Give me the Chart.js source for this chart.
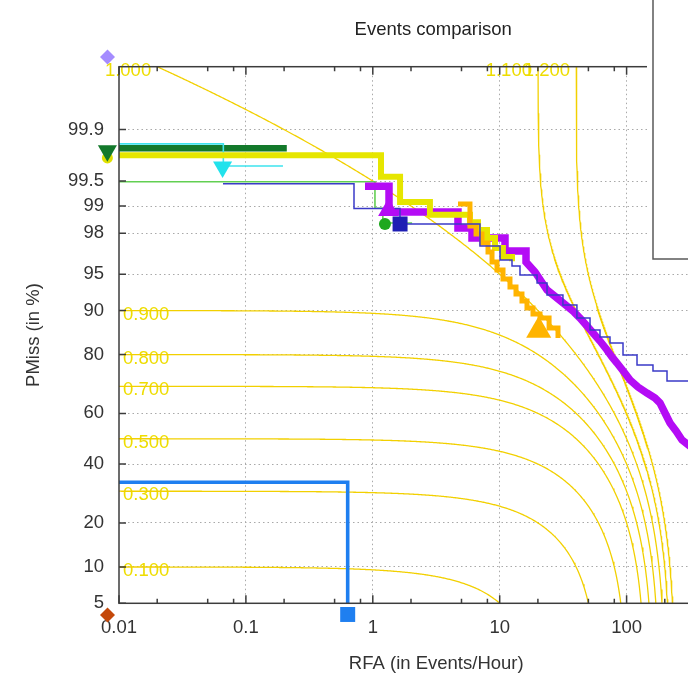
<!DOCTYPE html>
<html>
<head>
<meta charset="utf-8">
<title>Events comparison</title>
<script src="https://cdn.jsdelivr.net/npm/chart.js@4.4.1/dist/chart.umd.min.js"></script>
<style>
  html, body { margin: 0; padding: 0; background: #fff; overflow: hidden; width: 688px; height: 675px; }
  #wrap { width: 800px; height: 675px; }
  canvas { display: block; }
</style>
</head>
<body>
<div id="wrap"><canvas id="det" width="800" height="675"></canvas></div>
<script>
// ---- DET curves: RFA in events/hour, PMiss in percent ----
const yellowRFA   = [0.01, 1.16, 1.64, 2.82, 5.83, 6.75, 7.94, 9.18, 10.6, 12.5];
const yellowPMiss = [99.77, 99.56, 99.10, 98.74, 98.48, 98.15, 97.76, 97.17, 96.53, 96.2];

const darkGreenRFA   = [0.01, 0.21];
const darkGreenPMiss = [99.815, 99.815];

const cyanRFA   = [0.01, 0.0664, 0.196];
const cyanPMiss = [99.84, 99.68, 99.68];

const lightGreenRFA   = [0.01, 1.04, 1.2, 2.04];
const lightGreenPMiss = [99.49, 98.94, 98.45, 98.45];

const navyRFA   = [0.066, 0.711, 1.638, 6.99, 10.06, 12.5, 14.45, 19.7, 23.6, 31.5, 40.6, 51.5, 61.7, 74.0, 93.7, 120.8, 161.4, 208.2, 320];
const navyPMiss = [99.46, 98.93, 98.41, 97.30, 96.30, 95.79, 94.92, 94.02, 92.46, 90.94, 88.63, 86.15, 84.54, 83.07, 79.87, 76.95, 75.08, 71.80, 70.78];

// vertices of the purple curve (corners of its first steps, then its ragged tail)
const purpleRFA   = [0.868, 1.342, 1.342, 4.69, 4.69, 6.05, 6.05, 11.01, 11.01, 16.12, 16.12, 18.98, 21.16, 23.6, 28.28, 33.9, 38.5, 42.9, 48.75, 54.4, 61.7, 70.1, 76.7, 84.0, 95.4, 106.4, 123.0, 144.8, 167.4, 183.4, 200.7, 219.8, 245.1, 273.3, 320];
const purplePMiss = [99.42, 99.42, 98.83, 98.83, 98.24, 98.24, 97.76, 97.76, 96.97, 96.97, 96.14, 95.22, 94.26, 93.15, 92.03, 90.77, 89.74, 88.63, 87.01, 85.47, 83.57, 81.25, 79.30, 77.55, 74.77, 72.14, 69.75, 67.62, 65.81, 63.95, 60.15, 56.25, 53.08, 49.49, 46.8];

const orangeRFA   = [4.69, 5.83, 6.51, 7.25, 8.09, 8.70, 9.52, 10.62, 12.05, 13.44, 14.98, 16.41, 18.30, 20.78, 24.5, 28.8];
const orangePMiss = [99.05, 98.33, 97.96, 97.48, 96.90, 96.14, 95.42, 94.48, 93.53, 92.60, 91.57, 90.44, 89.38, 88.63, 86.58, 84.30];

const blueRFA   = [0.01, 0.634];
const bluePMiss = [33.16, 3.0];

// actual-decision points [RFA, PMiss %]; those beyond the axes sit just outside the frame
const violetMark     = [0.00812, 99.9932];
const yellowMark     = [0.0081, 99.75];
const darkGreenMark  = [0.0081, 99.80];
const cyanMark       = [0.0655, 99.67];
const lightGreenMark = [1.247, 98.41];
const navyMark       = [1.64, 98.41];
const purpleMark     = [1.33, 98.89];
const orangeMark     = [20.3, 86.04];
const blueMark       = [0.634, 3.95];
const brownMark      = [0.00812, 3.90];

// ---- axes ----
const yTickPercents = [5, 10, 20, 40, 60, 80, 90, 95, 98, 99, 99.5, 99.9];
const yTickLabels   = ['5', '10', '20', '40', '60', '80', '90', '95', '98', '99', '99.5', '99.9'];
const xMajorTicks   = [0.01, 0.1, 1, 10, 100, 1000];
const xMajorLabels  = ['0.01', '0.1', '1', '10', '100', '1000'];
const xMinorSteps   = [2, 5, 8];

// ---- iso-cost lines: cost = PMiss + CostFA / (CostMiss * Rtarget) * RFA ----
const costLevels  = [0.1, 0.3, 0.5, 0.7, 0.8, 0.9, 1.0, 1.1, 1.2];
const costLabels  = ['0.100', '0.300', '0.500', '0.700', '0.800', '0.900', '1.000', '1.100', '1.200'];
const COST_MISS = 10, COST_FA = 1, R_TARGET = 20;
const beta = COST_FA / (COST_MISS * R_TARGET);

// inverse of the standard normal CDF (Acklam)
function probit(p) {
  const a = [-3.969683028665376e+01, 2.209460984245205e+02, -2.759285104469687e+02, 1.383577518672690e+02, -3.066479806614716e+01, 2.506628277459239e+00];
  const b = [-5.447609879822406e+01, 1.615858368580409e+02, -1.556989798598866e+02, 6.680131188771972e+01, -1.328068155288572e+01];
  const c = [-7.784894002430293e-03, -3.223964580411365e-01, -2.400758277161838e+00, -2.549671010676686e+00, 4.374664141464968e+00, 2.938163982698783e+00];
  const d = [7.784695709041462e-03, 3.224671290700398e-01, 2.445134137142996e+00, 3.754408661907416e+00];
  const pl = 0.02425, ph = 1 - pl;
  let q, r;
  if (p < pl) {
    q = Math.sqrt(-2 * Math.log(p));
    return (((((c[0]*q + c[1])*q + c[2])*q + c[3])*q + c[4])*q + c[5]) / ((((d[0]*q + d[1])*q + d[2])*q + d[3])*q + 1);
  }
  if (p <= ph) {
    q = p - 0.5; r = q * q;
    return (((((a[0]*r + a[1])*r + a[2])*r + a[3])*r + a[4])*r + a[5])*q / (((((b[0]*r + b[1])*r + b[2])*r + b[3])*r + b[4])*r + 1);
  }
  q = Math.sqrt(-2 * Math.log(1 - p));
  return -(((((c[0]*q + c[1])*q + c[2])*q + c[3])*q + c[4])*q + c[5]) / ((((d[0]*q + d[1])*q + d[2])*q + d[3])*q + 1);
}

const Y_MIN_P = 0.05, Y_MAX_P = 0.9999, X_MIN = 0.01, X_MAX = 1000;

function curve(rfa, pmiss) {
  return rfa.map((r, i) => ({ x: r, y: probit(pmiss[i] / 100) }));
}
function mark(pt) {
  return [{ x: pt[0], y: probit(pt[1] / 100) }];
}
// one iso-cost line traced across the RFA axis
function isoCost(level) {
  const pCap = 0.99999, pFloor = 1e-5;
  const rStart = Math.max(X_MIN, (level - pCap) / beta);
  const l0 = Math.log10(rStart), l1 = Math.log10(X_MAX), n = 700;
  const pts = [];
  for (let i = 0; i <= n; i++) {
    const r = Math.pow(10, l0 + (l1 - l0) * i / n);
    const p = level - beta * r;
    if (p <= pFloor) { pts.push({ x: (level - pFloor) / beta, y: probit(pFloor) }); break; }
    pts.push({ x: r, y: probit(Math.min(p, pCap)) });
  }
  return pts;
}

const FONT = "'Liberation Sans', Arial, Helvetica, sans-serif";
Chart.defaults.font.family = FONT;
Chart.defaults.font.size = 18.5;
Chart.defaults.color = '#333';

function lineSet(data, color, width, order, stepped) {
  return { data, showLine: true, stepped: stepped !== false, borderColor: color, borderWidth: width,
           pointRadius: 0, fill: false, clip: 0, order,
           borderJoinStyle: 'miter', borderCapStyle: 'butt' };
}
// markers are painted by the markPainter plugin so that points beyond the frame still show
function markSet(data, color, style, radius, rotation) {
  return { data, showLine: false, pointRadius: 0, clip: false, order: 1,
           mark: { color, style, radius, rotation: rotation || 0 } };
}

const CONTOUR = '#f2d000';
const contourSets = costLevels.map(lv => ({
  data: isoCost(lv), showLine: true, borderColor: CONTOUR, borderWidth: 1.3,
  pointRadius: 0, fill: false, clip: 0, order: 30
}));

const datasets = [
  ...contourSets,
  lineSet(curve(blueRFA, bluePMiss), '#1f7ff0', 3.6, 14),
  lineSet(curve(darkGreenRFA, darkGreenPMiss), '#13792b', 6.5, 13),
  lineSet(curve(cyanRFA, cyanPMiss), '#3ee4ee', 1.6, 12),
  lineSet(curve(lightGreenRFA, lightGreenPMiss), '#62cf52', 1.6, 11),
  lineSet(curve(purpleRFA, purplePMiss), '#b40cf5', 7.5, 10, false),
  lineSet(curve(yellowRFA, yellowPMiss), '#e6e600', 6, 9),
  lineSet(curve(orangeRFA, orangePMiss), '#ffb400', 5, 8),
  lineSet(curve(navyRFA, navyPMiss), '#3a3ac8', 1.5, 7),
  markSet(mark(violetMark), '#a58cff', 'rectRot', 7.5),
  markSet(mark(yellowMark), '#e0e000', 'circle', 5.5),
  markSet(mark(darkGreenMark), '#13792b', 'triangle', 11, 180),
  markSet(mark(cyanMark), '#22e2ec', 'triangle', 11, 180),
  markSet(mark(lightGreenMark), '#1ea81e', 'circle', 6),
  markSet(mark(navyMark), '#1e1eb4', 'rect', 10.6),
  markSet(mark(purpleMark), '#b40cf5', 'triangle', 12),
  markSet(mark(orangeMark), '#ffb400', 'triangle', 14.5),
  markSet(mark(blueMark), '#1f7ff0', 'rect', 10.6),
  markSet(mark(brownMark), '#c4480a', 'rectRot', 7.5)
];

// x ticks: labelled decades plus 2/5/8 minor marks
const xTicks = [];
xMajorTicks.forEach((v, i) => {
  xTicks.push({ value: v, major: true });
  if (i < xMajorTicks.length - 1) xMinorSteps.forEach(m => xTicks.push({ value: v * m, major: false }));
});
function xLabel(v) {
  const i = xMajorTicks.findIndex(t => Math.abs(Math.log10(t) - Math.log10(v)) < 1e-6);
  return i >= 0 ? xMajorLabels[i] : '';
}

// frame box and inward tick marks on all sides
const frameTicks = {
  id: 'frameTicks',
  afterDatasetsDraw(chart) {
    const { ctx, chartArea: a, scales: { x, y } } = chart;
    ctx.save();
    ctx.strokeStyle = '#3c3c3c';
    ctx.lineWidth = 1.5;
    ctx.strokeRect(a.left, a.top, a.right - a.left, a.bottom - a.top);
    ctx.beginPath();
    x.ticks.forEach(t => {
      const px = x.getPixelForValue(t.value);
      const len = t.major ? 8 : 4.5;
      ctx.moveTo(px, a.bottom); ctx.lineTo(px, a.bottom - len);
      ctx.moveTo(px, a.top); ctx.lineTo(px, a.top + len);
    });
    y.ticks.forEach(t => {
      const py = y.getPixelForValue(t.value);
      ctx.moveTo(a.left, py); ctx.lineTo(a.left + 7, py);
      ctx.moveTo(a.right, py); ctx.lineTo(a.right - 7, py);
    });
    ctx.stroke();
    ctx.restore();
  }
};

// marker symbols at the pixel positions the scales give each point
const markPainter = {
  id: 'markPainter',
  afterDatasetsDraw(chart) {
    const { ctx } = chart;
    chart.data.datasets.forEach((ds, i) => {
      if (!ds.mark) return;
      chart.getDatasetMeta(i).data.forEach(el => {
        ctx.save();
        ctx.fillStyle = ds.mark.color;
        Chart.helpers.drawPoint(ctx, { pointStyle: ds.mark.style, radius: ds.mark.radius,
                                       rotation: ds.mark.rotation, borderWidth: 0 }, el.x, el.y);
        ctx.restore();
      });
    });
  }
};

// cost value written where each iso-cost line enters the plot
const costTags = {
  id: 'costTags',
  beforeDatasetsDraw(chart) {
    const { ctx, chartArea: a, scales: { x, y } } = chart;
    ctx.save();
    ctx.font = '18.5px ' + FONT;
    ctx.fillStyle = '#eedd00';
    ctx.textBaseline = 'middle';
    costLevels.forEach((lv, i) => {
      const pLeft = lv - beta * X_MIN;
      if (pLeft < Y_MAX_P) {
        ctx.textAlign = 'left';
        ctx.fillText(costLabels[i], a.left + 4, y.getPixelForValue(probit(pLeft)) + 4);
      } else {
        ctx.textAlign = 'right';
        ctx.fillText(costLabels[i], x.getPixelForValue((lv - Y_MAX_P) / beta) - 6, a.top + 4);
      }
    });
    ctx.restore();
  }
};

// chart title and the legend frame at the top right
const heading = {
  id: 'heading',
  afterDraw(chart) {
    const { ctx, chartArea: a } = chart;
    ctx.save();
    ctx.fillStyle = '#fff';
    ctx.fillRect(647, 0, chart.width - 647, 265);
    ctx.strokeStyle = '#5a5a5a';
    ctx.lineWidth = 1.5;
    ctx.beginPath();
    ctx.moveTo(653, 0); ctx.lineTo(653, 259); ctx.lineTo(chart.width, 259);
    ctx.stroke();
    ctx.font = '18.5px ' + FONT;
    ctx.fillStyle = '#222';
    ctx.textAlign = 'center';
    ctx.textBaseline = 'middle';
    ctx.fillText('Events comparison', (a.left + a.right) / 2 - 3, 30);
    ctx.restore();
  }
};

new Chart(document.getElementById('det'), {
  type: 'scatter',
  data: { datasets },
  plugins: [costTags, frameTicks, markPainter, heading],
  options: {
    responsive: false,
    animation: false,
    devicePixelRatio: 1,
    events: [],
    layout: { padding: { top: 66.7, right: 46.5, left: 0, bottom: 0 } },
    plugins: { legend: { display: false }, tooltip: { enabled: false } },
    scales: {
      x: {
        type: 'logarithmic', min: X_MIN, max: X_MAX,
        afterBuildTicks: s => { s.ticks = xTicks.map(t => ({ value: t.value, major: t.major })); },
        afterFit: s => { s.height = 71.7; },
        ticks: { autoSkip: false, maxRotation: 0, minRotation: 0, padding: 14, color: '#333',
                 callback: (v) => xLabel(v) },
        grid: { drawTicks: false, lineWidth: 1,
                color: c => (c.tick && c.tick.major && c.tick.value > X_MIN * 1.01 && c.tick.value < X_MAX * 0.99) ? '#a9a9a9' : 'rgba(0,0,0,0)' },
        border: { display: false, dash: [1.5, 3] },
        title: { display: true, text: 'RFA (in Events/Hour)', color: '#333', padding: { top: 0, bottom: 0 } }
      },
      y: {
        type: 'linear', min: probit(Y_MIN_P), max: probit(Y_MAX_P),
        afterBuildTicks: s => { s.ticks = yTickPercents.map(p => ({ value: probit(p / 100) })); },
        afterFit: s => { s.width = 119; },
        ticks: { autoSkip: false, padding: 15, color: '#333', callback: (v, i) => yTickLabels[i] },
        grid: { drawTicks: false, lineWidth: 1, color: c => (c.index === 0 ? 'rgba(0,0,0,0)' : '#a9a9a9') },
        border: { display: false, dash: [1.5, 3] },
        title: { display: true, text: 'PMiss (in %)', color: '#333', padding: { top: 23, bottom: 0 } }
      }
    }
  }
});
</script>
</body>
</html>
